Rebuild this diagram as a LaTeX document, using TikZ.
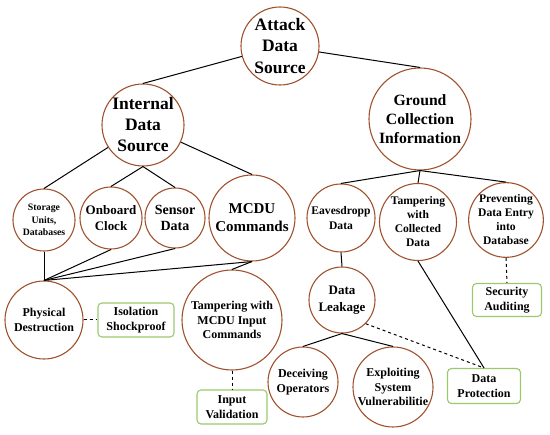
\documentclass[tikz,border=0pt]{standalone}
\usepackage{fontspec}
\setmainfont{Liberation Serif}
\definecolor{circ}{HTML}{A0522D}
\definecolor{boxg}{HTML}{9CC76B}
\begin{document}
\begin{tikzpicture}[x=1pt,y=-1pt,
  cnode/.style={circle,draw=circ,line width=1.1pt,inner sep=0pt,align=center,font=\bfseries},
  gbox/.style={rectangle,rounded corners=4pt,draw=boxg,line width=1.1pt,inner sep=0pt,align=center,font=\bfseries\fontsize{12}{15}\selectfont},
  link/.style={line width=1pt,black},
  dlink/.style={line width=1pt,black,dashed,dash pattern=on 3pt off 3pt}]
\useasboundingbox (0,0) rectangle (550,435);
% circles
\node[cnode,minimum size=78pt,font=\bfseries\fontsize{17.5}{21.5}\selectfont] (attack) at (280,46) {Attack\\Data\\Source};
\node[cnode,minimum size=82pt,font=\bfseries\fontsize{17.5}{21}\selectfont] (internal) at (143,125) {Internal\\Data\\Source};
\node[cnode,minimum size=102pt,font=\bfseries\fontsize{15.7}{19}\selectfont] (ground) at (420,119) {Ground\\Collection\\Information};
\node[cnode,minimum size=62pt,font=\bfseries\fontsize{9.8}{12.5}\selectfont] (storage) at (44,220) {Storage\\Units,\\Databases};
\node[cnode,minimum size=62pt,font=\bfseries\fontsize{13}{16}\selectfont] (onboard) at (111,218) {Onboard\\Clock};
\node[cnode,minimum size=60pt,font=\bfseries\fontsize{14}{16.5}\selectfont] (sensor) at (175,218) {Sensor\\Data};
\node[cnode,minimum size=86pt,font=\bfseries\fontsize{15}{18}\selectfont] (mcdu) at (252,218) {MCDU\\Commands};
\node[cnode,minimum size=68pt,font=\bfseries\fontsize{11.6}{14.3}\selectfont] (eaves) at (341,218) {Eavesdropp\\Data};
\node[cnode,minimum size=77pt,font=\bfseries\fontsize{11.6}{14}\selectfont] (tampc) at (418,222) {Tampering\\with\\Collected\\Data};
\node[cnode,minimum size=74pt,font=\bfseries\fontsize{11.6}{14}\selectfont] (prevent) at (506,220) {Preventing\\Data Entry\\into\\Database};
\node[cnode,minimum size=78pt,font=\bfseries\fontsize{12}{15}\selectfont] (physical) at (44,320) {Physical\\Destruction};
\node[cnode,minimum size=100pt,font=\bfseries\fontsize{12}{14.7}\selectfont] (tampm) at (232,320) {Tampering with\\MCDU Input\\Commands};
\node[cnode,minimum size=66pt,font=\bfseries\fontsize{13}{16.7}\selectfont] (leak) at (342,300) {Data\\Leakage};
\node[cnode,minimum size=70pt,font=\bfseries\fontsize{12}{15}\selectfont] (deceive) at (303,382) {Deceiving\\Operators};
\node[cnode,minimum size=80pt,font=\bfseries\fontsize{12}{14.3}\selectfont] (exploit) at (393,387) {Exploiting\\System\\Vulnerabilitie};
% boxes
\node[gbox,minimum width=76pt,minimum height=34pt] (iso) at (136,320) {Isolation\\Shockproof};
\node[gbox,minimum width=70pt,minimum height=34pt] (inval) at (232,407) {Input\\Validation};
\node[gbox,minimum width=69pt,minimum height=33pt] (audit) at (507,300) {Security\\Auditing};
\node[gbox,minimum width=73pt,minimum height=35pt] (protect) at (484,386) {Data\\Protection};
% links
\draw[link] (attack) -- (internal.north);
\draw[link] (attack) -- (ground.north);
\draw[link] (internal) -- (storage.north);
\draw[link] (internal.south) -- (onboard.north);
\draw[link] (internal.south) -- (sensor.north);
\draw[link] (internal) -- (mcdu.north);
\draw[link] (storage.south) -- (physical.north);
\draw[link] (onboard.south) -- (physical.north);
\draw[link] (sensor.south) -- (physical.north);
\draw[link] (mcdu.south) -- (physical.north);
\draw[link] (mcdu.south) -- (tampm.north);
\draw[link] (ground.south) -- (eaves.north);
\draw[link] (ground.south) -- (tampc.north);
\draw[link] (ground.south) -- (prevent.north);
\draw[link] (eaves.south) -- (leak.north);
\draw[link] (leak.south) -- (deceive.north);
\draw[link] (leak.south) -- (exploit.north);
\draw[link] (tampc.south) -- (protect.north);
\draw[dlink] (physical.east) -- (iso.west);
\draw[dlink] (tampm.south) -- (inval.north);
\draw[dlink] (prevent.south) -- (audit.north);
\draw[dlink] (leak.south east) -- (protect.north);
\end{tikzpicture}
\end{document}
